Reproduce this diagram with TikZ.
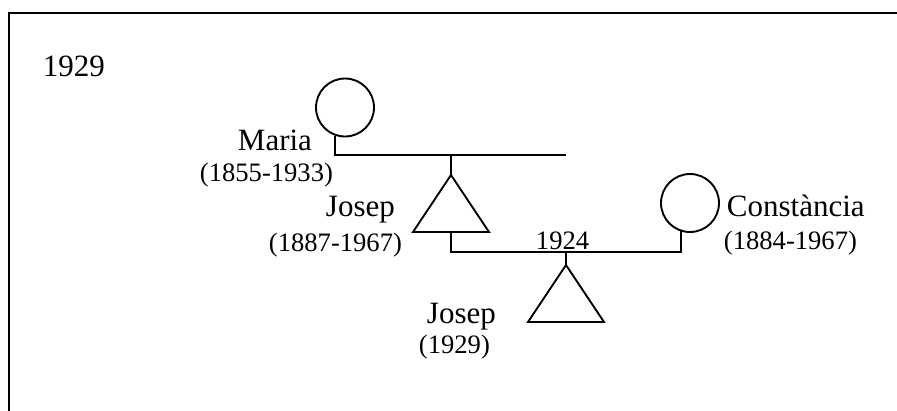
\documentclass[tikz,border=0pt]{standalone}
\usepackage{fontspec}
\setmainfont{Liberation Serif}
\begin{document}
\begin{tikzpicture}[x=1pt,y=-1pt,line width=1.9pt,
  person/.style={circle,draw,minimum size=58pt,inner sep=0pt},
  big/.style={font=\fontsize{31}{31}\selectfont,inner sep=0pt,anchor=base west},
  small/.style={font=\fontsize{26.6}{26.6}\selectfont,inner sep=0pt,anchor=base west}]
\useasboundingbox (0,0) rectangle (897,410);
% frame
\coordinate (fb) at (9,411);
\coordinate (fc) at (9,13);
\coordinate (fr) at (898,13);
\draw[line width=2.2pt] (fb) -- (fc) -- (fr);
\node[big] (year) at (42,76) {1929};
% Maria
\node[person] (maria) at (345,107.5) {};
\node[big] (marian) at (237,150) {Maria};
\node[small] (mariad) at (199,181) {(1855-1933)};
\coordinate (m1r) at (566,155);
\coordinate (m1c) at (451,155);
\draw (maria.-110) |- (m1r);
% Josep (father)
\coordinate (t1a) at (451,175);
\coordinate (t1l) at (413,232);
\coordinate (t1r) at (489,232);
\coordinate (t1b) at (451,232);
\draw (m1c) -- (t1a);
\draw (t1a) -- (t1l) -- (t1r) -- cycle;
\node[big] (josep1n) at (325,216.5) {Josep};
\node[small] (josep1d) at (268,251) {(1887-1967)};
% Constancia
\node[person] (cons) at (690,203) {};
\node[big] (consn) at (726,216.5) {Constància};
\node[small] (consd) at (723,249) {(1884-1967)};
\coordinate (m2l) at (451,252);
\coordinate (m2c) at (566,252);
\draw (t1b) -- (m2l) -| (cons.-108);
\node[small] (year2) at (535,249) {1924};
% Josep (son)
\coordinate (t2a) at (566,265);
\coordinate (t2l) at (528,322);
\coordinate (t2r) at (604,322);
\draw (m2c) -- (t2a);
\draw (t2a) -- (t2l) -- (t2r) -- cycle;
\node[big] (josep2n) at (426,323) {Josep};
\node[small] (josep2d) at (418,353) {(1929)};
\end{tikzpicture}
\end{document}
